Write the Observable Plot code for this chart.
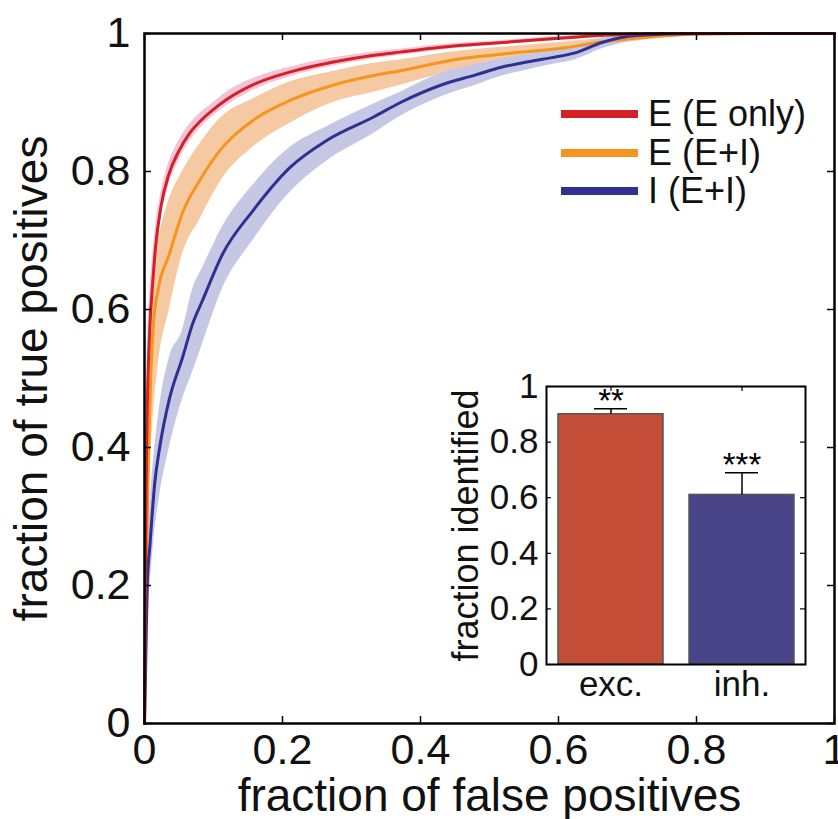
<!DOCTYPE html>
<html><head><meta charset="utf-8">
<script src="https://cdn.jsdelivr.net/npm/d3@7"></script>
<script src="https://cdn.jsdelivr.net/npm/@observablehq/plot@0.6"></script>
<style>
body{margin:0;background:#fff;}
#wrap{position:relative;width:838px;height:819px;font-family:"Liberation Sans",Arial,Helvetica,sans-serif;color:#111;}
#main{position:absolute;left:0;top:0;}
#inset{position:absolute;left:430px;top:370px;}
#legend{position:absolute;left:561px;top:95px;}
.row{display:flex;align-items:center;height:38.5px;}
.sw{width:77px;height:8px;margin-right:10px;}
.lab{font-size:36px;line-height:1;white-space:nowrap;}
</style></head><body>
<div id="wrap"><div id="main"></div><div id="inset"></div><div id="legend"></div></div>
<script>
// ---- tick values ----
const ticks = [0, 0.2, 0.4, 0.6, 0.8, 1];

// ---- axis titles ----
const xTitle = "fraction of false positives";
const yTitle = "fraction of true positives";
const insetTitle = "fraction identified";

// ---- series names & colors ----
const seriesNames = ["E (E only)", "E (E+I)", "I (E+I)"];
const lineColors = ["#d42128", "#f7941e", "#2e3192"];
const bandColors = ["#f3c3d6", "#f5caa3", "#c6c6e5"];

// ---- E (E only) ROC ----
const eOnlyX  = [0, 0.001, 0.002, 0.003, 0.005, 0.008, 0.012, 0.016, 0.024, 0.035, 0.05, 0.065, 0.08, 0.1, 0.12, 0.16, 0.21, 0.27, 0.33, 0.37, 0.43, 0.52, 0.6, 0.66, 0.75, 0.85, 1];
const eOnlyY  = [0, 0.15, 0.3, 0.4, 0.5, 0.58, 0.64, 0.69, 0.75, 0.795, 0.83, 0.855, 0.872, 0.89, 0.905, 0.927, 0.944, 0.958, 0.968, 0.973, 0.98, 0.987, 0.993, 0.997, 1, 1, 1];
const eOnlyLo = [0, 0.1, 0.24, 0.34, 0.44, 0.53, 0.6, 0.66, 0.73, 0.78, 0.816, 0.843, 0.862, 0.881, 0.896, 0.919, 0.937, 0.952, 0.963, 0.968, 0.976, 0.984, 0.99, 0.995, 0.998, 1, 1];
const eOnlyHi = [0, 0.2, 0.36, 0.46, 0.56, 0.63, 0.68, 0.72, 0.77, 0.812, 0.845, 0.868, 0.884, 0.9, 0.916, 0.936, 0.951, 0.964, 0.973, 0.977, 0.984, 0.99, 0.996, 0.999, 1, 1, 1];

// ---- E (E+I) ROC ----
const eEIX  = [0, 0.001, 0.002, 0.004, 0.006, 0.009, 0.013, 0.02, 0.036, 0.055, 0.08, 0.113, 0.157, 0.211, 0.273, 0.332, 0.371, 0.443, 0.517, 0.615, 0.663, 0.72, 0.8, 0.9, 1];
const eEIY  = [0, 0.1, 0.2, 0.3, 0.4, 0.5, 0.58, 0.63, 0.68, 0.74, 0.787, 0.835, 0.874, 0.903, 0.925, 0.939, 0.946, 0.961, 0.97, 0.98, 0.988, 0.994, 0.999, 1, 1];
const eEILo = [0, 0.06, 0.12, 0.2, 0.3, 0.38, 0.45, 0.52, 0.6, 0.68, 0.73, 0.79, 0.835, 0.87, 0.9, 0.915, 0.925, 0.945, 0.958, 0.972, 0.982, 0.99, 0.997, 1, 1];
const eEIHi = [0, 0.16, 0.3, 0.42, 0.52, 0.6, 0.66, 0.7, 0.76, 0.8, 0.84, 0.88, 0.905, 0.93, 0.945, 0.957, 0.962, 0.973, 0.98, 0.988, 0.993, 0.997, 1, 1, 1];

// ---- I (E+I) ROC ----
const iEIX  = [0, 0.002, 0.004, 0.008, 0.015, 0.022, 0.036, 0.055, 0.07, 0.084, 0.113, 0.157, 0.211, 0.264, 0.332, 0.371, 0.429, 0.48, 0.517, 0.55, 0.59, 0.624, 0.663, 0.712, 0.8, 0.9, 1];
const iEIY  = [0, 0.1, 0.2, 0.26, 0.35, 0.4, 0.47, 0.53, 0.58, 0.613, 0.68, 0.743, 0.806, 0.845, 0.879, 0.9, 0.925, 0.94, 0.951, 0.958, 0.965, 0.972, 0.987, 0.997, 1, 1, 1];
const iEILo = [0, 0.06, 0.15, 0.2, 0.28, 0.33, 0.4, 0.47, 0.51, 0.55, 0.63, 0.7, 0.77, 0.815, 0.855, 0.88, 0.908, 0.925, 0.938, 0.946, 0.955, 0.962, 0.978, 0.99, 0.998, 1, 1];
const iEIHi = [0, 0.14, 0.25, 0.32, 0.4, 0.46, 0.53, 0.57, 0.63, 0.66, 0.72, 0.78, 0.835, 0.865, 0.898, 0.915, 0.942, 0.955, 0.963, 0.969, 0.975, 0.982, 0.993, 1, 1, 1, 1];

// ---- inset bar data ----
const barCats  = ["exc.", "inh."];
const barVals  = [0.90, 0.61];
const barErrHi = [0.92, 0.69];
const barStars = ["**", "***"];
const barColors = ["#c44e37", "#4a4589"];

// ---- build tables ----
function rows(xs, ys, lo, hi, s) {
  return xs.map((x, i) => ({x, y: ys[i], lo: lo[i], hi: hi[i], s}));
}
const curves = [
  rows(eEIX, eEIY, eEILo, eEIHi, 1),
  rows(iEIX, iEIY, iEILo, iEIHi, 2),
  rows(eOnlyX, eOnlyY, eOnlyLo, eOnlyHi, 0)
];

const FONT = '"Liberation Sans", Arial, Helvetica, sans-serif';
const W = 838, H = 819, mL = 144, mR = 4, mT = 33, mB = 96;
const fw = W - mL - mR, fh = H - mT - mB, tk = 7;
const fmt = d => String(d);

const marks = [];
for (const c of curves) {
  marks.push(Plot.areaY(c, {x: "x", y1: "lo", y2: "hi", fill: bandColors[c[0].s], curve: "monotone-x"}));
}
for (const c of curves) {
  marks.push(Plot.line(c, {x: "x", y: "y", stroke: lineColors[c[0].s], strokeWidth: 3, curve: "monotone-x"}));
}
marks.push(
  Plot.tickX(ticks, {insetTop: fh - tk, stroke: "black", strokeWidth: 1.5}),
  Plot.tickX(ticks, {insetBottom: fh - tk, stroke: "black", strokeWidth: 1.5}),
  Plot.tickY(ticks, {insetRight: fw - tk, stroke: "black", strokeWidth: 1.5}),
  Plot.tickY(ticks, {insetLeft: fw - tk, stroke: "black", strokeWidth: 1.5}),
  Plot.axisX({ticks, tickFormat: fmt, tickSize: 0, tickPadding: 10, fontSize: 43, label: null}),
  Plot.axisY({ticks, tickFormat: fmt, tickSize: 0, tickPadding: 14, fontSize: 43, label: null}),
  Plot.text([xTitle], {frameAnchor: "bottom", lineAnchor: "bottom", textAnchor: "middle", dy: 87, fontSize: 46, fill: "#111"}),
  Plot.text([yTitle], {frameAnchor: "left", lineAnchor: "bottom", textAnchor: "middle", rotate: -90, dx: -98, fontSize: 46, fill: "#111"}),
  Plot.frame({stroke: "black", strokeWidth: 2.5})
);

const main = Plot.plot({
  width: W, height: H, marginLeft: mL, marginRight: mR, marginTop: mT, marginBottom: mB,
  x: {domain: [0, 1]}, y: {domain: [0, 1]},
  style: {fontFamily: FONT, fontSize: "43px", color: "#111", background: "transparent", overflow: "visible"},
  marks
});
document.getElementById("main").appendChild(main);

// ---- inset ----
const bars = barCats.map((c, i) => ({c, v: barVals[i], e: barErrHi[i], st: barStars[i], col: barColors[i]}));
const iW = 380, iH = 330, iL = 116, iR = 5, iT = 16, iB = 36;
const ifw = iW - iL - iR, ifh = iH - iT - iB, itk = 5;
const inset = Plot.plot({
  width: iW, height: iH, marginLeft: iL, marginRight: iR, marginTop: iT, marginBottom: iB,
  x: {type: "band", domain: barCats, paddingInner: 0.2, paddingOuter: 0.085},
  y: {domain: [0, 1]},
  style: {fontFamily: FONT, fontSize: "35px", color: "#111", background: "transparent", overflow: "visible"},
  marks: [
    Plot.frame({fill: "white"}),
    Plot.barY(bars, {x: "c", y: "v", fill: "col", stroke: "#555", strokeWidth: 1.5}),
    Plot.ruleX(bars, {x: "c", y1: "v", y2: "e", stroke: "black", strokeWidth: 1.5}),
    Plot.tickY(bars, {x: "c", y: "e", stroke: "black", strokeWidth: 1.5, insetLeft: 36, insetRight: 36}),
    Plot.text(bars, {x: "c", y: "e", text: "st", lineAnchor: "bottom", dy: 3, fontSize: 33, fill: "black"}),
    Plot.tickY(ticks, {insetRight: ifw - itk, stroke: "black", strokeWidth: 1.2}),
    Plot.tickY(ticks, {insetLeft: ifw - itk, stroke: "black", strokeWidth: 1.2}),
    Plot.tickX(barCats, {insetBottom: ifh - itk, stroke: "black", strokeWidth: 1.2}),
    Plot.axisY({ticks, tickFormat: fmt, tickSize: 0, tickPadding: 8, fontSize: 35, label: null}),
    Plot.axisX({tickSize: 0, tickPadding: 7, fontSize: 35, label: null}),
    Plot.text([insetTitle], {frameAnchor: "left", lineAnchor: "bottom", textAnchor: "middle", rotate: -90, dx: -69, fontSize: 36, fill: "#111"}),
    Plot.frame({stroke: "black", strokeWidth: 2})
  ]
});
document.getElementById("inset").appendChild(inset);

// ---- legend ----
const leg = document.getElementById("legend");
seriesNames.forEach((n, i) => {
  const r = document.createElement("div"); r.className = "row";
  const sw = document.createElement("div"); sw.className = "sw"; sw.style.background = lineColors[i];
  const lb = document.createElement("div"); lb.className = "lab"; lb.textContent = n;
  r.appendChild(sw); r.appendChild(lb); leg.appendChild(r);
});
</script>
</body></html>
